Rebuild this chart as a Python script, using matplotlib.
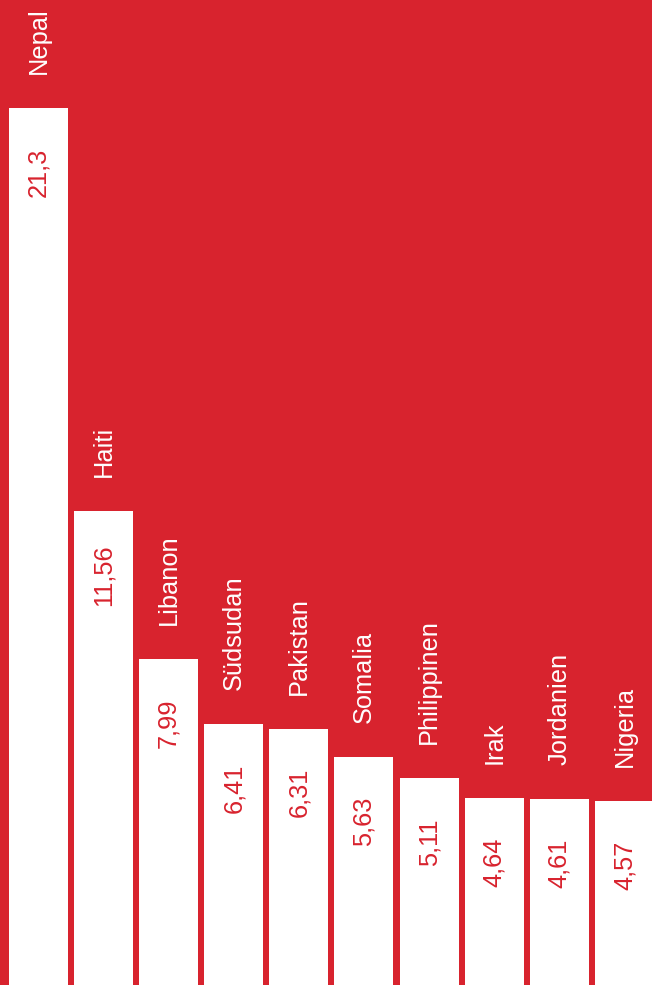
import matplotlib.pyplot as plt

countries = ['Nepal', 'Haiti', 'Libanon', 'Südsudan', 'Pakistan', 'Somalia',
             'Philippinen', 'Irak', 'Jordanien', 'Nigeria']
values = [21.3, 11.56, 7.99, 6.41, 6.31, 5.63, 5.11, 4.64, 4.61, 4.57]
value_labels = ['21,3', '11,56', '7,99', '6,41', '6,31', '5,63', '5,11', '4,64', '4,61', '4,57']

red = '#d8232e'
plt.rcParams['font.family'] = ['Liberation Sans', 'DejaVu Sans']

fig = plt.figure(figsize=(6.52, 9.85), dpi=100, facecolor=red)
ax = fig.add_axes([0, 0, 1, 1])
ax.set_facecolor(red)

x = list(range(len(values)))
ax.bar(x, values, width=0.906, color='white', edgecolor='none')

for i, v in enumerate(values):
    # country name above the bar, value inside near the top
    ax.text(i, v + 0.82, countries[i], rotation=90, ha='center', va='bottom',
            color='white', fontsize=18.3)
    ax.text(i, v - 1.55, value_labels[i], rotation=90, ha='center', va='center',
            color=red, fontsize=18.3)

ax.set_xlim(-0.591, 9.424)
ax.set_ylim(0.12, 23.9)
ax.axis('off')

fig.savefig('out.png', dpi=100, facecolor=red)
